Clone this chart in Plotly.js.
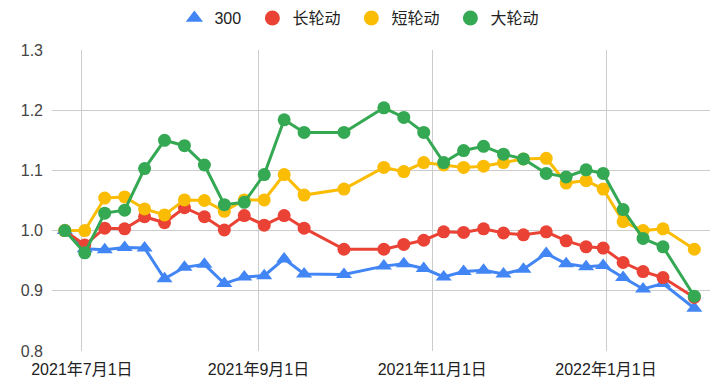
<!DOCTYPE html>
<html>
<head>
<meta charset="utf-8">
<script src="https://cdn.plot.ly/plotly-3.0.1.min.js"></script>
<style>html,body{margin:0;padding:0;background:#fff;}#chart{width:728px;height:387px;}</style>
</head>
<body>
<div id="chart"></div>
<script>
const dates = ['2021-06-25','2021-07-02','2021-07-09','2021-07-16','2021-07-23','2021-07-30','2021-08-06','2021-08-13','2021-08-20','2021-08-27','2021-09-03','2021-09-10','2021-09-17','2021-10-01','2021-10-15','2021-10-22','2021-10-29','2021-11-05','2021-11-12','2021-11-19','2021-11-26','2021-12-03','2021-12-11','2021-12-18','2021-12-25','2021-12-31','2022-01-07','2022-01-14','2022-01-21','2022-02-01'];

const hs300 = [1.000,0.970,0.968,0.972,0.971,0.920,0.939,0.944,0.912,0.923,0.925,0.953,0.928,0.927,0.941,0.945,0.937,0.923,0.932,0.934,0.928,0.936,0.962,0.945,0.940,0.942,0.922,0.903,0.912,0.871];
const longRot = [1.000,0.976,1.004,1.003,1.023,1.013,1.038,1.023,1.001,1.025,1.009,1.025,1.004,0.969,0.969,0.977,0.984,0.998,0.997,1.003,0.996,0.993,0.998,0.983,0.973,0.971,0.947,0.932,0.922,0.889];
const shortRot = [1.000,1.000,1.054,1.056,1.036,1.026,1.051,1.050,1.032,1.051,1.051,1.093,1.059,1.069,1.105,1.098,1.113,1.109,1.105,1.107,1.113,1.119,1.120,1.079,1.083,1.069,1.015,1.000,1.003,0.969];
const bigRot = [1.000,0.963,1.029,1.034,1.103,1.150,1.141,1.109,1.043,1.047,1.093,1.184,1.163,1.163,1.204,1.188,1.163,1.113,1.133,1.140,1.127,1.119,1.095,1.089,1.101,1.095,1.035,0.987,0.973,0.891];

const seriesNames = ['300','长轮动','短轮动','大轮动'];
const xTickVals = ['2021-07-01','2021-09-01','2021-11-01','2022-01-01'];
const xTickText = ['2021年7月1日','2021年9月1日','2021年11月1日','2022年1月1日'];
const yTickVals = [0.8,0.9,1.0,1.1,1.2,1.3];

const colors = ['#4285F4','#EA4335','#FBBC04','#34A853'];
const symbols = ['triangle-up','circle','circle','circle'];
const legendWidths = [33, 54, 54, 48];
const allSeries = [hs300, longRot, shortRot, bigRot];

// legend-only entries (marker symbol only, like the reference legend)
const legendTraces = seriesNames.map((n, i) => ({
  type: 'scatter',
  mode: 'markers',
  name: n,
  x: [null],
  y: [null],
  legendwidth: legendWidths[i],
  marker: {color: colors[i], symbol: symbols[i], size: 15, line: {width: 0}},
  showlegend: true,
  hoverinfo: 'skip'
}));

const dataTraces = allSeries.map((vals, i) => ({
  type: 'scatter',
  mode: 'lines+markers',
  name: seriesNames[i],
  x: dates,
  y: vals,
  line: {color: colors[i], width: 3},
  marker: {color: colors[i], symbol: symbols[i], size: i === 0 ? 14 : 13, line: {width: 0}},
  showlegend: false,
  hoverinfo: 'x+y+name'
}));

const layout = {
  width: 728,
  height: 387,
  margin: {l: 52, r: 18, t: 50, b: 36, autoexpand: false},
  paper_bgcolor: '#ffffff',
  plot_bgcolor: '#ffffff',
  font: {family: 'Arial, "Liberation Sans", "Noto Sans CJK SC", sans-serif', size: 16, color: '#444'},
  showlegend: true,
  legend: {
    orientation: 'h',
    x: 0.186, xanchor: 'left',
    y: 1.106, yanchor: 'middle',
    font: {size: 16, color: '#222'},
    itemwidth: 30,
    traceorder: 'normal'
  },
  xaxis: {
    type: 'date',
    range: ['2021-06-20 12:00', '2022-02-06 12:00'],
    tickmode: 'array',
    tickvals: xTickVals,
    ticktext: xTickText,
    showgrid: true,
    gridcolor: '#cccccc',
    gridwidth: 1,
    zeroline: false,
    showline: false,
    ticks: '',
    ticklabelstandoff: 7,
    tickfont: {size: 16, color: '#222'}
  },
  yaxis: {
    range: [0.8, 1.3],
    tickmode: 'array',
    tickvals: yTickVals,
    tickformat: '.1f',
    showgrid: true,
    gridcolor: '#cccccc',
    gridwidth: 1,
    zeroline: false,
    showline: false,
    ticks: '',
    ticklabelstandoff: 8,
    tickfont: {size: 16, color: '#444'}
  }
};

Plotly.newPlot('chart', legendTraces.concat(dataTraces), layout, {displayModeBar: false, staticPlot: true});
</script>
</body>
</html>
